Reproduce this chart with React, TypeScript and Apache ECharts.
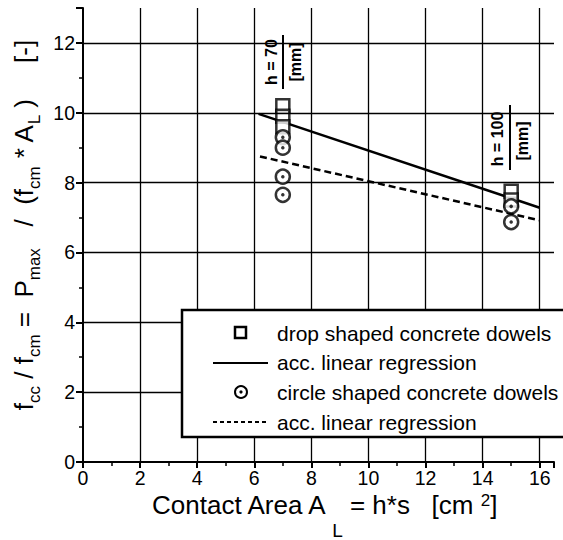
import React, { useEffect, useRef } from "react";
import * as echarts from "echarts";

// ---- data ----
const dropX = [7, 7, 7, 15, 15];
const dropY = [10.2, 9.9, 9.6, 7.75, 7.5];
const circleX = [7, 7, 7, 7, 15, 15];
const circleY = [9.3, 9.0, 8.17, 7.65, 7.32, 6.87];
const solidRegX = [6.15, 16];
const solidRegY = [9.97, 7.28];
const dashedRegX = [6.2, 16];
const dashedRegY = [8.75, 6.92];
const xGridTicks = [2, 4, 6, 8, 10, 12, 14, 16];
const yGridTicks = [2, 4, 6, 8, 10, 12];
const legendLabels = [
  "drop shaped concrete dowels",
  "acc. linear regression",
  "circle shaped concrete dowels",
  "acc. linear regression",
];

const FONT = "Liberation Sans";

const zip = (xs: number[], ys: number[]) => xs.map((x, i) => [x, ys[i]]);

export default function App() {
  const ref = useRef<HTMLDivElement>(null);
  useEffect(() => {
    if (!ref.current) return;
    const chart = echarts.init(ref.current, null, { renderer: "svg" });
    const gridLine = { color: "#000", width: 1.3, type: "solid" as const };
    const Z = 100;
    const option: any = {
      animation: false,
      backgroundColor: "#fff",
      grid: { left: 83, right: 9, top: 8, bottom: 78 },
      xAxis: {
        type: "value",
        min: 0,
        max: 16.5,
        interval: 2,
        axisLine: { lineStyle: { color: "#000", width: 2 } },
        axisTick: { length: 6, lineStyle: { color: "#000", width: 2 } },
        minorTick: { show: true, splitNumber: 2, length: 4, lineStyle: { color: "#000", width: 1.5 } },
        splitLine: { show: false },
        axisLabel: { color: "#000", fontSize: 19.5, fontFamily: FONT, margin: 6, lineHeight: 20, showMaxLabel: false },
      },
      yAxis: {
        type: "value",
        min: 0,
        max: 13,
        interval: 2,
        axisLine: { lineStyle: { color: "#000", width: 2 } },
        axisTick: { length: 7, lineStyle: { color: "#000", width: 2 } },
        minorTick: { show: true, splitNumber: 2, length: 4, lineStyle: { color: "#000", width: 1.5 } },
        splitLine: { show: false },
        axisLabel: { color: "#000", fontSize: 19.5, fontFamily: FONT, margin: 8, showMaxLabel: false },
      },
      series: [
        {
          name: "grid",
          type: "line",
          data: [],
          silent: true,
          z: 1,
          markLine: {
            silent: true,
            symbol: "none",
            label: { show: false },
            lineStyle: gridLine,
            data: [
              ...xGridTicks.map((v) => ({ xAxis: v })),
              ...yGridTicks.map((v) => ({ yAxis: v })),
            ],
          },
        },
        {
          name: "acc. linear regression (drop)",
          type: "line",
          data: zip(solidRegX, solidRegY),
          showSymbol: false,
          symbol: "none",
          lineStyle: { color: "#000", width: 2.5, type: "solid" },
          z: 3,
        },
        {
          name: "acc. linear regression (circle)",
          type: "line",
          data: zip(dashedRegX, dashedRegY),
          showSymbol: false,
          symbol: "none",
          lineStyle: { color: "#000", width: 2.5, type: [7, 4] },
          z: 3,
        },
        {
          name: "drop shaped concrete dowels",
          type: "scatter",
          data: zip(dropX, dropY),
          symbol: "rect",
          symbolSize: 13,
          itemStyle: { color: "#fff", borderColor: "#000", borderWidth: 2.5 },
          z: 4,
        },
        {
          name: "circle shaped concrete dowels",
          type: "scatter",
          data: zip(circleX, circleY),
          symbol: "circle",
          symbolSize: 14,
          itemStyle: { color: "#fff", borderColor: "#000", borderWidth: 2.5 },
          z: 5,
        },
        {
          name: "circle dots",
          type: "scatter",
          data: zip(circleX, circleY),
          symbol: "circle",
          symbolSize: 3.5,
          itemStyle: { color: "#000" },
          z: 6,
        },
      ],
      graphic: {
        elements: [
          // y axis title
          {
            type: "text",
            x: 24,
            y: 225,
            rotation: Math.PI / 2,
            z: Z,
            style: {
              text: "{n|f}{s|cc}{n| / f}{s|cm}{n| =  P}{s|max}{n|   /  (f}{s|cm}{n| * A}{s|L}{n| )     [-]}",
              align: "center",
              verticalAlign: "middle",
              fill: "#000",
              rich: {
                n: { fontSize: 26, fontFamily: FONT, lineHeight: 38, fill: "#000" },
                s: { fontSize: 17, fontFamily: FONT, lineHeight: 17, verticalAlign: "bottom", fill: "#000" },
              },
            },
          },
          // x axis title
          {
            type: "text",
            x: 324,
            y: 515,
            z: Z,
            style: {
              text: "{n|Contact Area A}{s| L}{n| = h*s   [cm }{p|2}{n|]}",
              align: "center",
              verticalAlign: "middle",
              fill: "#000",
              rich: {
                n: { fontSize: 26, fontFamily: FONT, lineHeight: 26, verticalAlign: "top", fill: "#000" },
                s: { fontSize: 19, fontFamily: FONT, lineHeight: 46, padding: [30, 0, 0, 0], fill: "#000" },
                p: { fontSize: 17, fontFamily: FONT, lineHeight: 17, verticalAlign: "top", fill: "#000" },
              },
            },
          },
          // h = 70 annotation
          { type: "text", z: Z, x: 271, y: 62, rotation: Math.PI / 2, style: { text: "h = 70", align: "center", verticalAlign: "middle", fontSize: 16, fontWeight: "bold", fontFamily: FONT, fill: "#000" } },
          { type: "line", z: Z, shape: { x1: 283, y1: 35, x2: 283, y2: 89 }, style: { stroke: "#000", lineWidth: 2 } },
          { type: "text", z: Z, x: 295, y: 62, rotation: Math.PI / 2, style: { text: "[mm]", align: "center", verticalAlign: "middle", fontSize: 16, fontWeight: "bold", fontFamily: FONT, fill: "#000" } },
          // h = 100 annotation
          { type: "text", z: Z, x: 497, y: 139, rotation: Math.PI / 2, style: { text: "h = 100", align: "center", verticalAlign: "middle", fontSize: 16, fontWeight: "bold", fontFamily: FONT, fill: "#000" } },
          { type: "line", z: Z, shape: { x1: 510, y1: 105, x2: 510, y2: 170 }, style: { stroke: "#000", lineWidth: 2 } },
          { type: "text", z: Z, x: 522, y: 141, rotation: Math.PI / 2, style: { text: "[mm]", align: "center", verticalAlign: "middle", fontSize: 16, fontWeight: "bold", fontFamily: FONT, fill: "#000" } },
          // legend box
          { type: "rect", z: Z, shape: { x: 182, y: 310, width: 400, height: 127 }, style: { fill: "#fff", stroke: "#000", lineWidth: 2.5 } },
          { type: "rect", z: Z + 1, shape: { x: 235, y: 327, width: 11, height: 11 }, style: { fill: "#fff", stroke: "#000", lineWidth: 2.5 } },
          { type: "line", z: Z + 1, shape: { x1: 213, y1: 363, x2: 268, y2: 363 }, style: { stroke: "#000", lineWidth: 2 } },
          { type: "circle", z: Z + 1, shape: { cx: 241, cy: 392, r: 6 }, style: { fill: "#fff", stroke: "#000", lineWidth: 2 } },
          { type: "circle", z: Z + 2, shape: { cx: 241, cy: 392, r: 1.6 }, style: { fill: "#000" } },
          { type: "line", z: Z + 1, shape: { x1: 213, y1: 422, x2: 268, y2: 422 }, style: { stroke: "#000", lineWidth: 2, lineDash: [4, 3] } },
          ...legendLabels.map((t, i) => ({
            type: "text",
            z: Z + 1,
            x: 277,
            y: 333 + i * 29.7,
            style: { text: t, align: "left", verticalAlign: "middle", fontSize: 21, fontFamily: FONT, fill: "#000" },
          })),
        ],
      },
    };
    chart.setOption(option);
    return () => chart.dispose();
  }, []);
  return (
    <div
      ref={ref}
      style={{ position: "fixed", left: 0, top: 0, width: 563, height: 540, background: "#fff" }}
    />
  );
}
